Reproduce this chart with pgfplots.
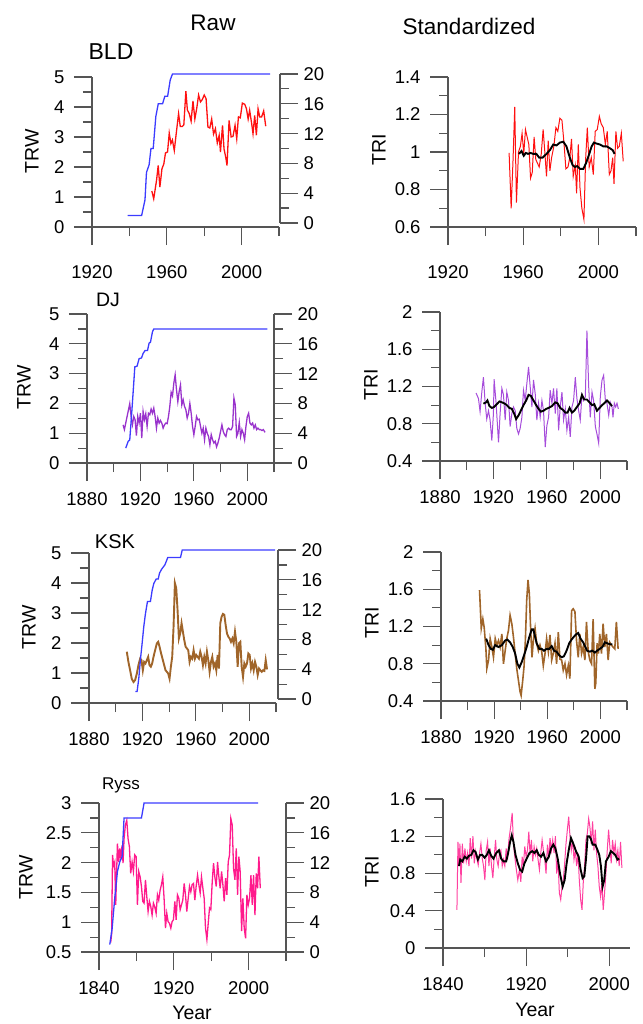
\documentclass[border=0pt]{standalone}
\usepackage{fontspec}
\setmainfont{Liberation Sans}
\usepackage{pgfplots}
\pgfplotsset{compat=1.18}

\definecolor{bluedepth}{HTML}{3C3CFF}
\definecolor{bldred}{HTML}{FF1010}
\definecolor{djpurple}{HTML}{9933CC}
\definecolor{djpurpleL}{HTML}{A64CDB}
\definecolor{kskbrown}{HTML}{A0652A}
\definecolor{ryssPink}{HTML}{FF1A8C}
\definecolor{ryssPinkL}{HTML}{FF40A0}
\definecolor{axgray}{HTML}{555555}

\pgfplotsset{
  panel/.style={
    scale only axis, width=187pt, height=149pt,
    axis x line*=bottom, axis y line*=left,
    axis line style={-, draw=axgray, line width=1.2pt},
    tick align=outside, major tick length=18pt, minor tick length=9pt,
    every tick/.style={draw=axgray, line width=1.2pt},
    tick label style={font=\fontsize{18.5}{21}\selectfont},
    xticklabel style={yshift=-8pt},
    yticklabel style={xshift=-6pt},
    /pgf/number format/1000 sep={}, /pgf/number format/assume math mode=true,
    clip=false,
  },
  depth/.style={
    scale only axis, width=187pt, height=149pt,
    axis x line=none, axis y line*=right,
    axis line style={-, draw=axgray, line width=1.2pt},
    tick align=outside, major tick length=18pt, minor tick length=9pt,
    every tick/.style={draw=axgray, line width=1.2pt},
    tick label style={font=\fontsize{18.5}{21}\selectfont},
    yticklabel style={xshift=2pt},
    /pgf/number format/assume math mode=true,
    ymin=0, ymax=20, ytick={0,4,8,12,16,20}, minor ytick={2,6,10,14,18},
    clip=false,
  },
  rawline/.style={no marks, line width=1.3pt},
  triline/.style={no marks, line width=1.0pt},
  smooth/.style={no marks, line width=1.9pt, black},
}

\begin{document}
\begin{tikzpicture}
\path[use as bounding box] (0,0) rectangle (642pt,-1024pt);

% ---------- titles and labels
\node[font=\fontsize{22.5}{26}\selectfont] at (213pt,-23pt) {Raw};
\node[font=\fontsize{22.5}{26}\selectfont] at (469pt,-26pt) {Standardized};
\node[font=\fontsize{23}{26}\selectfont] at (111pt,-52pt) {BLD};
\node[font=\fontsize{19.5}{22}\selectfont] at (108pt,-300pt) {DJ};
\node[font=\fontsize{20}{22}\selectfont] at (115pt,-542pt) {KSK};
\node[font=\fontsize{17}{20}\selectfont] at (121pt,-785pt) {Ryss};
\foreach \x/\y in {32/151,24/387,29/627,26/877}
  \node[rotate=90,font=\fontsize{19.5}{22}\selectfont] at (\x pt,-\y pt) {TRW};
\foreach \x/\y in {379/150,371/385,372/623,372/872}
  \node[rotate=90,font=\fontsize{19.5}{22}\selectfont] at (\x pt,-\y pt) {TRI};
\node[font=\fontsize{19.5}{22}\selectfont] at (192pt,-1013pt) {Year};
\node[font=\fontsize{19.5}{22}\selectfont] at (535pt,-1010pt) {Year};

% ================= BLD raw
\begin{axis}[panel, at={(92pt,-227pt)}, anchor=south west, height=150pt,
  xticklabel style={yshift=-9pt},
  xmin=1920, xmax=2020, xtick={1920,1960,2000}, minor xtick={1940,1980,2020},
  ymin=0, ymax=5, ytick={0,1,2,3,4,5}, minor ytick={0.5,1.5,2.5,3.5,4.5}]
\addplot[rawline, draw=bldred] coordinates {
(1952,1.20)(1953,0.94)(1954.5,1.55)(1955.4,2.05)(1956.3,1.33)(1957.4,1.94)(1958.4,2.10)(1959.3,2.47)(1960.4,2.50)(1961.3,3.13)(1962.2,2.78)(1963,2.90)(1964,2.55)(1965.2,3.20)(1966.3,3.78)(1967.2,3.35)(1968.2,3.35)(1969.1,3.40)(1970.2,4.53)(1971,3.90)(1972,3.78)(1973,3.53)(1974,4.20)(1975,3.60)(1976,3.95)(1977,4.40)(1978,4.17)(1979,4.25)(1980,4.40)(1981,4.28)(1982,3.33)(1983,3.30)(1984,3.60)(1985,3.10)(1986,3.28)(1987,2.80)(1988,3.05)(1988.7,2.50)(1989.8,3.39)(1990.6,2.60)(1991.5,2.33)(1992.2,2.05)(1993.3,3.55)(1994.4,3.00)(1995.4,3.02)(1996.5,3.39)(1997.4,2.94)(1998.3,3.67)(1999.3,3.64)(2000.4,4.13)(2001.7,4.09)(2002.6,3.94)(2003.5,3.60)(2004.3,3.89)(2005.4,3.44)(2006.1,3.11)(2007,3.72)(2007.9,3.06)(2008.8,3.94)(2009.7,3.67)(2010.7,3.67)(2011.8,3.87)(2012.9,3.36)};
\end{axis}
\begin{axis}[depth, at={(93pt,-223pt)}, anchor=south west, xmin=1920, xmax=2020]
\addplot[rawline, draw=bluedepth] coordinates {
(1938.5,1)(1946,1)(1947.8,3.1)(1948.6,6.8)(1950,7.8)(1951,10)(1952.2,10)(1953.6,14.3)(1954.9,16)(1957.2,16)(1958.4,17)(1959.9,17)(1961.3,19.2)(1962.5,20)(2014.7,20)};
\end{axis}

% ================= BLD standardized
\begin{axis}[panel, at={(448pt,-227pt)}, anchor=south west, width=188pt, height=150pt,
  xticklabel style={yshift=-9pt},
  xmin=1920, xmax=2020, xtick={1920,1960,2000}, minor xtick={1940,1980,2020},
  ymin=0.6, ymax=1.4, ytick={0.6,0.8,1,1.2,1.4}, minor ytick={0.7,0.9,1.1,1.3}]
\addplot[triline, draw=bldred] coordinates {
(1952.5,0.995)(1953.6,0.70)(1954.6,0.96)(1955.5,1.24)(1956.4,0.73)(1957.5,1.00)(1958.5,1.03)(1959.4,1.10)(1960.3,0.99)(1961.2,1.12)(1962.1,1.08)(1963,1.04)(1963.9,0.86)(1964.8,0.89)(1965.8,1.08)(1966.7,0.96)(1967.6,0.94)(1968.5,0.92)(1969.6,0.99)(1970.6,1.12)(1971.5,1.00)(1972.4,0.87)(1973.3,1.06)(1974.2,0.90)(1975.1,0.97)(1976.3,1.03)(1977.4,1.13)(1978.4,1.11)(1979.5,1.18)(1980.6,1.17)(1981.6,1.06)(1982.7,0.91)(1983.8,0.92)(1984.8,0.97)(1985.7,1.07)(1986.6,0.87)(1987.7,0.93)(1988.4,0.78)(1989.3,1.04)(1990.2,0.81)(1991.2,0.70)(1992.3,0.64)(1993.2,0.96)(1994.1,1.13)(1995.1,0.92)(1996.2,0.97)(1997.3,0.88)(1998.3,1.11)(1999.4,1.12)(2000.5,1.19)(2001.5,1.15)(2002.6,1.13)(2003.7,1.04)(2004.7,1.11)(2005.8,0.88)(2006.7,0.90)(2007.6,0.97)(2008.3,0.83)(2009.3,1.11)(2010.2,1.02)(2011.1,1.03)(2012.2,1.10)(2013.2,0.95)};
\addplot[smooth] coordinates {
(1957.7,0.99)(1959.1,1.005)(1960.3,0.98)(1961.4,0.995)(1962.6,0.99)(1963.9,0.995)(1965.3,0.99)(1967,0.99)(1968.5,0.97)(1970.3,0.97)(1972.4,0.99)(1974.2,1.01)(1976,1.04)(1977.7,1.035)(1979.5,1.05)(1981.3,1.055)(1983,1.03)(1984.8,0.97)(1986.3,0.93)(1987.5,0.92)(1988.7,0.925)(1990.2,0.91)(1992,0.91)(1993.4,0.94)(1994.8,0.98)(1996.4,1.03)(1997.6,1.05)(1999,1.045)(2000.8,1.04)(2002.6,1.03)(2004.4,1.03)(2006.1,1.02)(2007.6,1.01)(2008.6,0.99)};
\end{axis}

% ================= DJ raw
\begin{axis}[panel, at={(87pt,-463pt)}, anchor=south west,
  xmin=1880, xmax=2020, xtick={1880,1920,1960,2000}, minor xtick={1900,1940,1980,2020},
  ymin=0, ymax=5, ytick={0,1,2,3,4,5}, minor ytick={0.5,1.5,2.5,3.5,4.5}]
\addplot[rawline, draw=djpurple] coordinates {
(1907,1.28)(1908,1.12)(1909.5,1.45)(1910.8,1.73)(1912,1.99)(1913.3,1.45)(1914,1.28)(1915,1.56)(1916,1.45)(1917,0.92)(1918,1.56)(1919,1.34)(1920,1.67)(1921,0.84)(1922,1.73)(1923,1.45)(1924,1.65)(1925,1.23)(1926,1.67)(1927,1.62)(1928,1.81)(1929,1.67)(1930,1.84)(1931,1.56)(1932,1.17)(1933,1.51)(1934,1.34)(1935,1.43)(1936,1.34)(1937,1.17)(1938,1.28)(1939,1.34)(1940,1.32)(1941,1.56)(1942,1.90)(1943,2.37)(1944,2.25)(1945,2.68)(1946,2.96)(1947,2.46)(1948,2.06)(1949,2.40)(1950,2.62)(1951,1.95)(1952,2.12)(1953,1.90)(1954,1.79)(1955,1.51)(1956,1.67)(1957,2.00)(1958,1.67)(1959,1.23)(1960,0.95)(1961,1.23)(1962,1.56)(1963,1.45)(1964,1.47)(1965,1.23)(1966,1.00)(1967,1.17)(1968,0.78)(1969,1.17)(1970,1.00)(1971,0.89)(1972,0.61)(1973,0.95)(1974,0.78)(1975,0.67)(1976,0.73)(1977,0.54)(1978,0.67)(1979,0.84)(1980,1.06)(1981,1.28)(1982,1.06)(1983,0.95)(1984,0.89)(1985,1.12)(1986,1.17)(1987,1.12)(1988,1.12)(1989,1.23)(1990,2.18)(1991,1.95)(1992,0.89)(1993,1.00)(1994,1.36)(1995,0.89)(1996,1.12)(1997,1.00)(1998,0.78)(1999,1.23)(2000,1.56)(2001,1.67)(2002,1.34)(2003,1.28)(2004,1.34)(2005,1.17)(2006,1.28)(2007,1.12)(2008,1.17)(2009,1.12)(2010,1.12)(2011,1.09)(2012,1.12)(2013.3,1.03)};
\end{axis}
\begin{axis}[depth, at={(87pt,-463pt)}, anchor=south west, xmin=1880, xmax=2020]
\addplot[rawline, draw=bluedepth] coordinates {
(1909,2.0)(1910.8,2.9)(1912,3.1)(1913.3,6.25)(1914.5,9.4)(1915.8,12.9)(1917.5,13.0)(1919,14)(1920.8,14.1)(1922,14.7)(1923.5,15.1)(1925.3,15.1)(1926.5,16.1)(1927.5,16.2)(1929,17.6)(1930,18)(2015,18)};
\end{axis}

% ================= DJ standardized
\begin{axis}[panel, at={(440pt,-461pt)}, anchor=south west,
  xmin=1880, xmax=2020, xtick={1880,1920,1960,2000}, minor xtick={1900,1940,1980,2020},
  ymin=0.4, ymax=2, ytick={0.4,0.8,1.2,1.6,2}, minor ytick={0.6,1,1.4,1.8}]
\addplot[triline, draw=djpurpleL] coordinates {
(1907,1.13)(1908.8,1.07)(1910,0.93)(1911.3,1.14)(1912.5,1.30)(1913.8,1.02)(1915,0.85)(1916.3,0.94)(1917.5,0.84)(1918.8,0.62)(1920,0.91)(1920.5,1.28)(1922,1.02)(1923.8,0.60)(1925,0.91)(1926.3,1.18)(1927.5,1.11)(1928.8,0.84)(1930,1.14)(1931.3,1.05)(1932.5,0.77)(1933.8,0.91)(1935,0.98)(1936.3,0.94)(1937.5,0.75)(1938.8,0.69)(1940,0.75)(1941.3,0.87)(1942.5,1.16)(1943.8,1.05)(1945,1.23)(1946.3,1.41)(1947.5,1.20)(1948.8,0.98)(1950,1.27)(1951.3,1.12)(1952.5,0.84)(1953.8,1.02)(1955,0.87)(1956.3,1.05)(1957.5,0.94)(1958.8,0.55)(1960,0.78)(1961.3,0.87)(1962.5,1.16)(1963.8,1.02)(1965,1.18)(1966.3,0.91)(1967.5,1.18)(1968.8,0.73)(1970,0.98)(1971.3,1.14)(1972.5,0.84)(1973.8,0.96)(1975,0.73)(1976.3,0.87)(1977.5,0.66)(1978.8,0.98)(1980,1.05)(1981.3,1.30)(1982.5,1.07)(1983.8,0.94)(1985,0.84)(1986.3,1.11)(1987.5,1.05)(1988.8,1.09)(1990,1.80)(1991.3,1.20)(1992.5,0.87)(1993.8,1.14)(1995,1.05)(1996.3,0.77)(1997.5,0.69)(1998.8,0.59)(2000,1.09)(2001.3,1.27)(2002.5,1.32)(2003.8,1.05)(2005,1.02)(2006.3,0.89)(2007.5,1.03)(2008.8,0.98)(2009.5,0.87)(2010.5,1.02)(2011.5,0.98)(2012.5,1.02)(2013.5,0.96)};
\addplot[smooth] coordinates {
(1912.5,1.016)(1914.5,1.03)(1915.5,1.05)(1917,0.99)(1918.8,0.97)(1920.5,0.98)(1922.5,1.01)(1924.5,1.04)(1926.3,1.03)(1928,1.02)(1930,1.00)(1932,0.97)(1933.8,0.96)(1935.5,0.91)(1937,0.85)(1938.8,0.89)(1940.5,0.94)(1942.5,1.00)(1944.5,1.05)(1946.3,1.11)(1948,1.10)(1950,1.05)(1952,1.00)(1953.8,0.96)(1955.5,0.93)(1957.5,0.94)(1959.5,0.96)(1961.3,0.97)(1963.8,0.99)(1966.3,1.03)(1968,1.02)(1970,0.97)(1972,0.95)(1973.8,0.92)(1975.5,0.92)(1977,0.97)(1978.8,0.92)(1980.5,0.94)(1982.5,0.98)(1984.5,1.02)(1986.3,1.11)(1988,1.06)(1990,1.06)(1992,1.03)(1993.8,1.00)(1995.5,1.01)(1997.5,0.94)(1999.5,0.97)(2001.3,1.00)(2003,1.02)(2005,1.05)(2007,1.02)(2008.8,0.99)};
\end{axis}

% ================= KSK raw
\begin{axis}[panel, at={(89pt,-703pt)}, anchor=south west, height=150pt,
  xmin=1880, xmax=2020, xtick={1880,1920,1960,2000}, minor xtick={1900,1940,1980,2020},
  ymin=0, ymax=5, ytick={0,1,2,3,4,5}, minor ytick={0.5,1.5,2.5,3.5,4.5}]
\addplot[no marks, line width=1.9pt, draw=kskbrown] coordinates {
(1908.3,1.71)(1909.5,1.37)(1910.8,1.09)(1912,0.81)(1913.3,0.70)(1914.5,0.76)(1915.8,0.98)(1917,1.26)(1918.3,1.48)(1919.3,1.43)(1920.3,1.09)(1921.3,1.37)(1922.3,1.32)(1923.3,1.43)(1924.3,1.54)(1925.3,1.26)(1926.3,1.21)(1927.3,1.32)(1928.3,1.54)(1929.5,1.76)(1930.8,1.99)(1931.8,2.04)(1932.8,1.88)(1934,1.65)(1935.3,1.43)(1936.3,1.26)(1937.3,1.09)(1938.3,1.04)(1939.3,0.98)(1940.3,0.81)(1941.3,1.21)(1942.3,1.54)(1943.3,2.54)(1944.3,4.00)(1945.3,3.83)(1946.3,3.10)(1947.3,2.15)(1948.3,2.32)(1949.3,2.66)(1950.3,2.38)(1951.3,2.10)(1952.3,1.88)(1953.3,1.82)(1954.3,1.76)(1955.3,1.37)(1956.3,1.54)(1957.3,1.48)(1958.3,1.76)(1959.3,1.48)(1960.3,1.60)(1961.3,1.54)(1962.3,1.48)(1963.3,1.71)(1964.3,1.54)(1965.3,1.26)(1966.3,1.54)(1967.3,1.32)(1968.3,1.71)(1969.3,1.43)(1970.3,1.04)(1971.3,1.37)(1972.3,1.54)(1973.3,1.21)(1974.3,1.32)(1975.3,1.09)(1976.3,1.60)(1977.3,1.15)(1978.3,2.66)(1979.3,2.88)(1980.3,2.97)(1981.3,2.94)(1982.3,2.60)(1983.3,2.32)(1984.3,2.21)(1985.3,2.15)(1986.3,2.04)(1987.3,2.15)(1988.3,1.99)(1989.3,2.38)(1990.3,2.04)(1991.3,1.21)(1992.3,1.99)(1993.3,2.04)(1994.3,1.21)(1995.3,0.87)(1996.3,1.32)(1997.3,1.21)(1998.3,1.32)(1999.3,1.65)(2000.3,1.60)(2001.3,1.15)(2002.3,1.32)(2003.3,1.09)(2004.3,1.37)(2005.3,1.21)(2006.3,0.93)(2007.3,1.15)(2008.3,1.09)(2009.3,1.04)(2010.3,1.09)(2011.3,1.07)(2012.3,1.43)(2013.3,1.12)};
\end{axis}
\begin{axis}[depth, at={(91pt,-699pt)}, anchor=south west, xmin=1880, xmax=2020]
\addplot[rawline, draw=bluedepth] coordinates {
(1913.3,1.0)(1914.5,1.0)(1915.8,2.8)(1917,5.3)(1918.3,7.5)(1919.5,9.7)(1920.8,11.5)(1922.3,13.1)(1924.5,13.1)(1925.8,14.6)(1927,15.5)(1928.8,16.1)(1930.3,16.1)(1931.3,16.9)(1932.8,17.4)(1935.3,18)(1937.5,19)(1947,19)(1948.3,20)(2017.8,20)};
\end{axis}

% ================= KSK standardized
\begin{axis}[panel, at={(441pt,-701pt)}, anchor=south west, width=186pt,
  xmin=1880, xmax=2020, xtick={1880,1920,1960,2000}, minor xtick={1900,1940,1980,2020},
  ymin=0.4, ymax=2, ytick={0.4,0.8,1.2,1.6,2}, minor ytick={0.6,1,1.4,1.8}]
\addplot[no marks, line width=1.6pt, draw=kskbrown] coordinates {
(1909,1.59)(1910.3,1.18)(1911.5,1.28)(1912.5,1.19)(1913.8,0.96)(1914.5,0.75)(1915.8,0.84)(1917,1.07)(1918.3,0.98)(1919.5,0.87)(1920.8,1.07)(1922,1.00)(1923.3,1.05)(1924.5,0.98)(1925.8,1.12)(1927,0.80)(1928.3,0.94)(1929.5,1.07)(1930.8,1.16)(1932,1.32)(1933.3,1.23)(1934.5,1.09)(1935.8,0.91)(1937,0.75)(1938.3,0.62)(1939.5,0.50)(1940.3,0.46)(1941.5,0.62)(1942.5,0.77)(1943.5,1.05)(1944.5,1.48)(1945.5,1.70)(1946.5,1.55)(1947.5,1.16)(1948.5,0.87)(1949.5,1.05)(1950.8,1.18)(1952,1.02)(1953.3,0.94)(1954.5,1.00)(1955.8,0.93)(1957,0.78)(1958.3,0.91)(1959.5,1.07)(1960.8,0.93)(1962,1.11)(1963.3,0.84)(1964.5,0.91)(1965.8,1.02)(1967,0.80)(1968.3,1.14)(1969.5,0.85)(1970.8,0.84)(1972,0.73)(1973.3,0.80)(1974.5,0.68)(1975.8,0.78)(1977,0.64)(1978.3,1.37)(1979.5,1.39)(1980.8,1.36)(1982,1.05)(1983.3,0.87)(1984.5,1.12)(1985.8,0.91)(1987,0.98)(1988.3,0.84)(1989.5,1.25)(1990.8,0.93)(1992,0.84)(1993.3,0.80)(1994.5,1.28)(1995.8,0.53)(1996.5,0.59)(1997.5,1.02)(1998.5,0.91)(1999.5,1.12)(2000.8,0.91)(2002,1.23)(2003.3,0.98)(2004.5,1.12)(2005.8,0.84)(2007,1.03)(2008.3,1.00)(2009.5,0.98)(2010.8,0.96)(2012,1.25)(2013.3,0.96)};
\addplot[smooth] coordinates {
(1914,1.07)(1915.8,1.00)(1917.5,0.96)(1919,0.95)(1920.8,1.00)(1923.3,0.98)(1925.8,1.00)(1928.3,1.05)(1930,1.06)(1932,1.03)(1934,0.98)(1935.8,0.91)(1937.5,0.80)(1939,0.76)(1940.8,0.82)(1942.5,0.89)(1944.5,0.98)(1946.5,1.09)(1948.3,1.17)(1949.5,1.17)(1950.8,1.09)(1952,1.02)(1954,0.96)(1955.8,0.96)(1957.5,0.94)(1959.5,0.96)(1961.5,0.96)(1963.3,0.99)(1965,0.94)(1967,0.93)(1969,0.89)(1970.8,0.87)(1972.5,0.88)(1974.5,0.94)(1976.5,1.02)(1978.3,1.06)(1980,1.09)(1982,1.12)(1983.3,1.13)(1985,1.07)(1987,1.03)(1988.3,0.99)(1990,0.94)(1992,0.93)(1994,0.94)(1995.8,0.92)(1997.5,0.94)(1999.5,0.96)(2001.5,0.98)(2003.3,1.03)(2005,1.02)(2007,1.01)(2009,1.01)};
\end{axis}

% ================= Ryss raw
\begin{axis}[panel, at={(99pt,-952pt)}, anchor=south west,
  xmin=1840, xmax=2040, xtick={1840,1920,2000}, minor xtick={1880,1960,2040},
  ymin=0.5, ymax=3, ytick={0.5,1,1.5,2,2.5,3}, minor ytick={0.75,1.25,1.75,2.25,2.75}]
\addplot[rawline, draw=ryssPink] coordinates {
(1852.5,0.66)(1853.5,0.80)(1854.5,2.13)(1855.5,1.95)(1856.8,2.01)(1857.9,1.29)(1859.7,2.32)(1861.1,2.01)(1862.2,2.24)(1863.2,2.07)(1864.7,2.29)(1865.7,1.99)(1866.8,2.40)(1868.2,2.63)(1869.7,2.71)(1871.1,2.40)(1872.5,2.27)(1873.9,1.82)(1875.4,2.01)(1876.8,1.85)(1878.2,2.13)(1879.7,2.10)(1881.1,1.29)(1882.5,1.85)(1884,1.76)(1885.4,1.60)(1886.8,1.35)(1888.2,1.32)(1889.7,1.71)(1891.1,1.43)(1892.5,1.18)(1893.9,1.35)(1895.4,1.26)(1896.8,1.12)(1898.2,1.32)(1899.6,1.26)(1901.1,1.15)(1902.5,1.46)(1903.9,1.37)(1905.4,1.54)(1906.8,1.63)(1908.2,1.76)(1909.6,1.40)(1911.1,0.90)(1912.5,1.15)(1913.9,1.01)(1915.4,0.98)(1916.8,0.90)(1918.2,1.01)(1919.6,1.04)(1921.1,1.35)(1922.5,1.04)(1923.9,1.46)(1925.4,1.40)(1926.8,1.21)(1928.2,1.29)(1929.6,1.37)(1931.1,1.65)(1932.5,1.46)(1933.9,1.18)(1935.4,1.40)(1936.8,1.60)(1938.2,1.51)(1939.6,1.63)(1941.1,1.65)(1942.5,1.37)(1943.9,1.60)(1945.4,1.79)(1946.8,1.63)(1948.2,1.49)(1949.6,1.76)(1951.1,1.57)(1952.5,1.40)(1953.9,0.90)(1955.4,0.71)(1956.8,0.98)(1958.2,1.24)(1959.6,1.21)(1961.1,1.68)(1962.5,1.99)(1963.9,1.76)(1965.4,1.60)(1966.8,2.01)(1968.2,1.76)(1969.6,1.57)(1971.1,1.85)(1972.5,1.63)(1973.9,1.35)(1975.4,1.74)(1976.8,1.46)(1978.2,2.01)(1979.6,2.13)(1981,2.74)(1982.5,2.63)(1983.9,1.90)(1985.4,1.71)(1986.8,2.24)(1988.2,1.46)(1989.6,2.10)(1991,1.85)(1992.5,0.85)(1993.9,1.40)(1995.3,0.90)(1996.8,0.73)(1998.2,1.46)(1999.6,1.29)(2001,1.40)(2002.5,1.79)(2003.9,1.29)(2005.3,1.79)(2006.8,1.12)(2008.2,1.82)(2009.6,1.57)(2011,2.10)(2012.5,1.57)};
\end{axis}
\begin{axis}[depth, at={(99pt,-952pt)}, anchor=south west, xmin=1840, xmax=2040]
\addplot[rawline, draw=bluedepth] coordinates {
(1851.5,1)(1854,3.1)(1856.8,7.2)(1859.7,10.8)(1862.2,12.1)(1864.7,12.8)(1866.8,18)(1885.4,18)(1888.2,20)(2010.3,20)};
\end{axis}

% ================= Ryss standardized
\begin{axis}[panel, at={(443pt,-948pt)}, anchor=south west,
  xmin=1840, xmax=2020, xtick={1840,1920,2000}, minor xtick={1880,1960},
  ymin=0, ymax=1.6, ytick={0,0.4,0.8,1.2,1.6}, minor ytick={0.2,0.6,1,1.4}]
\addplot[triline, draw=ryssPinkL] coordinates {
(1853.4,0.41)(1854.4,1.14)(1855.4,0.88)(1856.3,1.12)(1857.3,0.70)(1858.6,1.12)(1859.8,0.91)(1861.1,1.07)(1862.4,0.93)(1863.7,1.02)(1865,0.88)(1866.2,1.18)(1867.5,0.96)(1868.8,1.20)(1870.1,0.91)(1871.4,1.04)(1872.6,0.96)(1873.9,0.89)(1875.2,1.02)(1876.5,1.12)(1877.8,0.96)(1879,0.88)(1880.3,0.73)(1881.6,1.05)(1882.9,1.14)(1884.2,0.88)(1885.4,1.07)(1886.7,0.88)(1888,0.75)(1889.3,0.98)(1890.6,1.16)(1891.8,0.95)(1893.1,0.88)(1894.4,1.02)(1895.7,1.05)(1897,0.88)(1898.2,0.95)(1899.5,0.88)(1900.8,1.07)(1902.1,0.95)(1903.4,1.16)(1905,1.29)(1906.6,1.45)(1907.8,1.12)(1909.1,0.98)(1910.4,0.86)(1912,0.73)(1913.6,0.84)(1914.9,0.71)(1916.2,0.98)(1917.4,0.88)(1918.7,1.09)(1920,0.98)(1921.3,1.05)(1922.6,1.25)(1923.8,1.00)(1925.1,1.16)(1926.4,0.93)(1927.7,1.09)(1929,1.00)(1930.2,1.07)(1931.5,0.95)(1932.8,0.84)(1934.1,1.02)(1935.4,1.16)(1936.6,1.05)(1937.9,0.95)(1939.2,0.80)(1940.5,1.11)(1941.8,0.96)(1943,1.18)(1944.3,1.05)(1945.6,1.16)(1946.9,1.02)(1948.2,1.20)(1949.4,0.80)(1950.7,0.95)(1952,0.59)(1953.3,0.52)(1954.6,0.66)(1955.8,0.73)(1957.1,0.91)(1958.4,1.12)(1959.7,1.27)(1961,1.41)(1962.2,1.20)(1963.5,1.05)(1964.8,1.16)(1966.1,0.95)(1967.4,1.05)(1968.6,0.88)(1969.9,1.02)(1971.2,0.73)(1972.5,0.52)(1973.8,0.41)(1975,0.70)(1976.3,0.88)(1977.6,1.16)(1978.9,1.23)(1980.2,1.39)(1981.4,1.30)(1982.7,1.12)(1984,1.36)(1985.3,1.05)(1986.6,1.27)(1987.8,1.02)(1989.1,0.88)(1990.4,0.66)(1991.7,0.55)(1993,0.70)(1994.2,0.41)(1995.5,0.59)(1996.8,0.80)(1998.1,1.05)(1999.4,1.27)(2000.6,1.09)(2001.9,0.91)(2003.2,1.16)(2004.5,1.02)(2005.8,1.12)(2007,0.95)(2008.3,1.05)(2009.6,0.88)(2010.9,1.14)(2012.2,0.86)};
\addplot[smooth] coordinates {
(1855.4,0.88)(1856.6,0.95)(1858.6,0.93)(1860.8,0.98)(1863,0.96)(1865,0.99)(1867.2,1.00)(1869.4,1.05)(1871.4,1.03)(1873.6,0.95)(1875.8,1.00)(1877.8,1.00)(1880,0.97)(1882.2,1.00)(1884.2,1.05)(1886.4,0.99)(1888.6,0.96)(1891.2,1.02)(1893.8,1.05)(1896,0.96)(1898.2,0.93)(1900.8,0.93)(1902.7,1.02)(1904.6,1.14)(1906.2,1.21)(1907.8,1.14)(1909.8,1.00)(1912,0.91)(1914.2,0.84)(1916.2,0.82)(1918.4,0.91)(1920.6,0.96)(1923.2,1.02)(1925.8,1.04)(1928,1.02)(1930.2,1.05)(1932.2,1.00)(1934.4,0.98)(1936.6,1.02)(1939.2,0.93)(1941.8,0.98)(1944,1.07)(1946.2,1.11)(1948.2,1.07)(1950.4,0.96)(1952.6,0.80)(1955.2,0.66)(1957.1,0.73)(1959,0.91)(1961,1.05)(1963.2,1.18)(1965.4,1.12)(1968,1.04)(1970.6,0.98)(1972.5,0.84)(1974.4,0.75)(1976,0.77)(1977.6,0.95)(1979.2,1.20)(1980.8,1.20)(1982.4,1.17)(1984,1.11)(1986.6,1.11)(1988.8,1.05)(1990.4,1.00)(1992,0.88)(1993.6,0.66)(1995.2,0.73)(1996.8,0.93)(1999.4,0.98)(2001.6,1.04)(2003.8,1.02)(2005.8,1.00)(2008,0.95)(2009.6,0.96)};
\end{axis}
\end{tikzpicture}
\end{document}
